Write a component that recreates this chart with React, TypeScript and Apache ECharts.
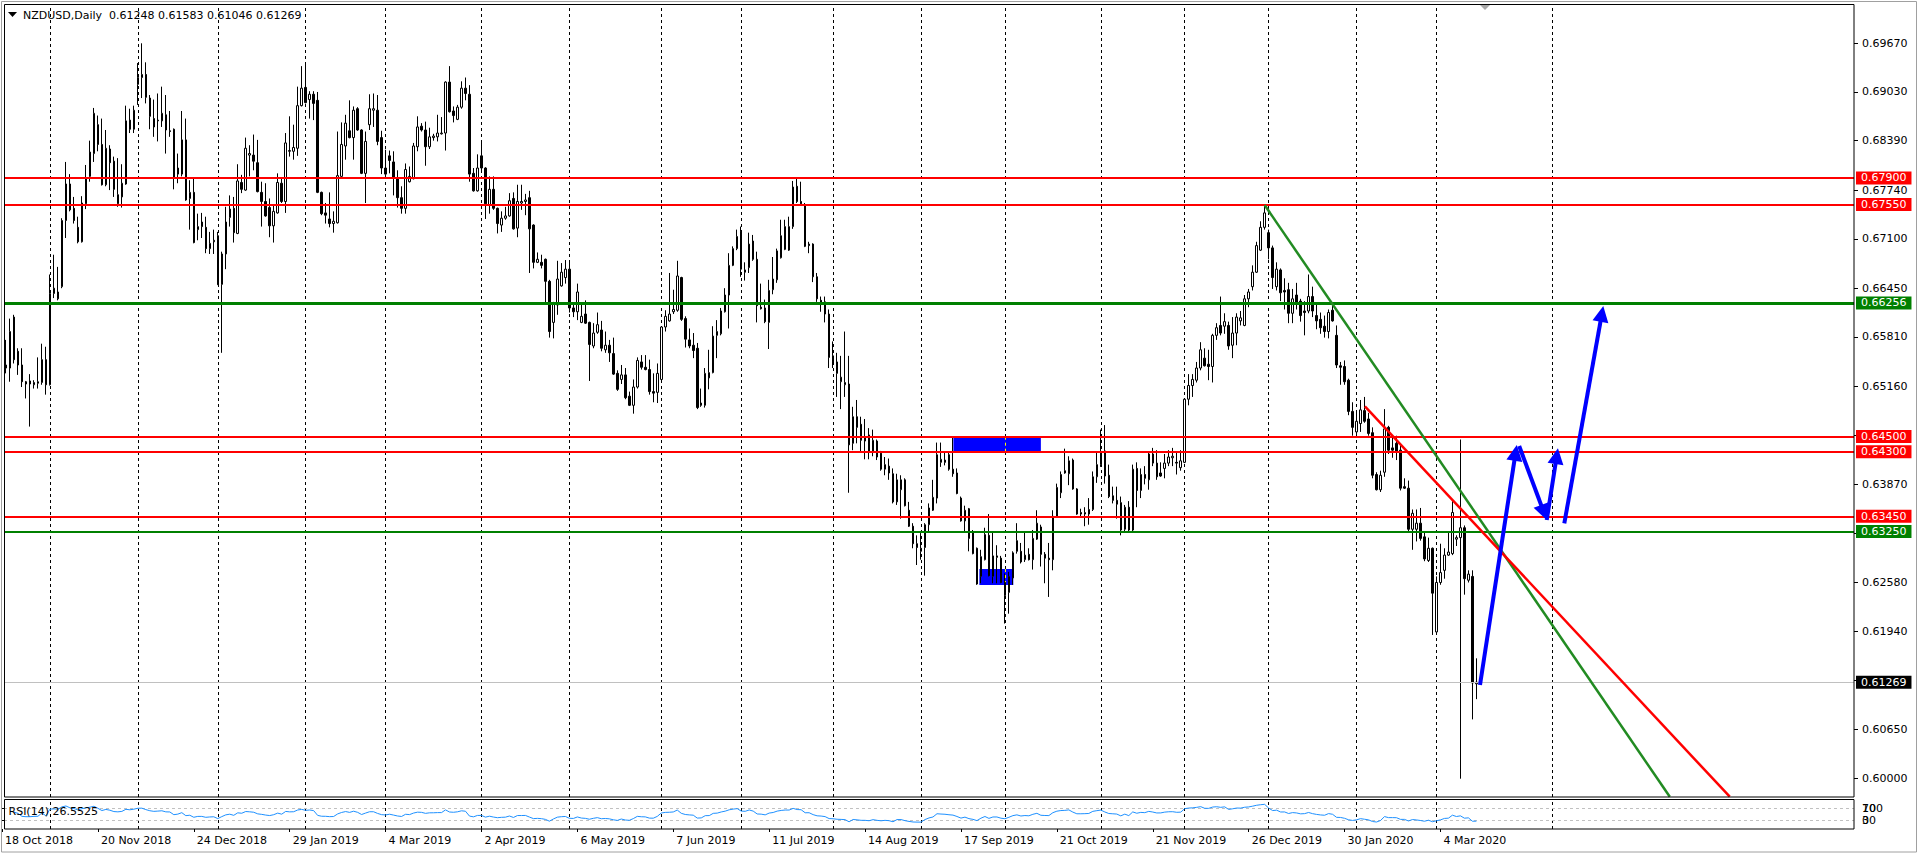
import React, { useEffect, useRef } from "react";
import * as echarts from "echarts";

const FONT = "DejaVu Sans";
const TITLE = "NZDUSD,Daily";
const RSI_TEXT = "RSI(14) 26.5525";
const SLOTS = 463; // bar slots 1..463 (incl. empty shift area on the right)
const LABEL_STEP = 24;
const DATE_LABELS = [
  "18 Oct 2018", "20 Nov 2018", "24 Dec 2018", "29 Jan 2019", "4 Mar 2019", "2 Apr 2019",
  "6 May 2019", "7 Jun 2019", "11 Jul 2019", "14 Aug 2019", "17 Sep 2019", "21 Oct 2019",
  "21 Nov 2019", "26 Dec 2019", "30 Jan 2020", "4 Mar 2020",
];
const PRICE_MIN = 0.597594;
const PRICE_MAX = 0.701868;
const PRICE_TICKS = [
  0.6967, 0.6903, 0.6839, 0.6774, 0.671, 0.6645, 0.6581, 0.6516, 0.6452, 0.6387,
  0.6323, 0.6258, 0.6194, 0.6129, 0.6065, 0.6,
];
const GRID_BARS = [12, 34, 54, 76, 96, 120, 142, 165, 185, 208, 230, 251, 275, 296, 317, 339, 359, 388];

// Daily bars in pips (price x 10000): [open, high, low, close]
const barsA = [
  [6544,6577,6533,6540],[6540,6605,6522,6588],[6607,6610,6546,6551],[6562,6566,6531,6544],[6544,6566,6515,6522],
  [6522,6523,6500,6519],[6523,6532,6463,6519],[6518,6524,6513,6521],[6520,6554,6513,6522],[6521,6572,6518,6551],
  [6551,6568,6505,6518],[6518,6663,6517,6638],[6638,6689,6632,6645],[6631,6673,6629,6640],[6647,6737,6645,6734],
  [6734,6811,6711,6782],[6782,6795,6746,6748],[6750,6765,6730,6734],[6725,6739,6704,6706],[6706,6766,6705,6757],
  [6756,6807,6749,6790],[6792,6839,6785,6824],[6822,6882,6811,6875],[6860,6872,6825,6834],[6834,6868,6780,6781],
  [6781,6853,6779,6829],[6828,6833,6774,6810],[6812,6818,6765,6775],[6756,6816,6752,6768],[6765,6808,6751,6783],
  [6782,6885,6781,6865],[6866,6881,6849,6854],[6854,6885,6849,6879],[6913,6941,6886,6922],[6922,6967,6895,6926],
  [6926,6942,6888,6896],[6895,6899,6854,6871],[6868,6893,6844,6857],[6866,6901,6838,6865],[6865,6910,6857,6875],
  [6873,6899,6822,6853],[6852,6878,6844,6851],[6854,6855,6775,6790],[6795,6822,6783,6803],[6795,6878,6792,6840],
  [6840,6868,6760,6761],
];
const barsB = [
  [6763,6787,6722,6771],[6771,6789,6704,6705],[6722,6743,6708,6726],[6732,6744,6711,6726],[6725,6739,6691,6697],
  [6697,6719,6690,6704],[6706,6722,6690,6708],[6714,6719,6649,6650],[6650,6693,6560,6690],[6690,6752,6670,6732],
  [6738,6767,6726,6749],[6750,6765,6705,6718],[6717,6808,6716,6786],[6784,6794,6770,6775],[6774,6843,6773,6829],
  [6820,6833,6792,6822],[6820,6847,6800,6812],[6810,6840,6771,6772],[6771,6785,6726,6759],[6759,6783,6739,6740],
  [6751,6763,6712,6727],[6727,6754,6705,6746],[6744,6796,6743,6784],[6783,6790,6757,6759],[6759,6849,6744,6836],
  [6825,6871,6818,6826],[6825,6860,6814,6830],[6829,6910,6819,6885],[6885,6937,6884,6908],[6909,6941,6888,6889],
  [6893,6904,6868,6900],[6900,6904,6866,6888],[6892,6903,6770,6771],[6771,6772,6741,6743],[6744,6757,6730,6741],
  [6736,6771,6725,6730],[6730,6746,6718,6733],[6731,6851,6730,6793],[6792,6863,6790,6834],[6832,6873,6814,6862],
  [6852,6892,6842,6843],[6843,6884,6814,6879],[6881,6883,6852,6853],[6853,6854,6795,6796],[6796,6851,6757,6838],
  [6860,6900,6853,6881],
];
const barsC = [
  [6879,6901,6857,6881],[6879,6899,6833,6838],[6843,6852,6795,6803],[6803,6827,6792,6795],[6819,6826,6796,6813],
  [6811,6825,6767,6790],[6790,6800,6751,6764],[6764,6779,6743,6750],[6750,6809,6743,6801],[6785,6805,6784,6792],
  [6789,6836,6788,6832],[6831,6871,6825,6857],[6858,6862,6851,6853],[6853,6864,6806,6831],[6831,6856,6828,6844],
  [6843,6848,6839,6845],[6844,6873,6838,6849],[6848,6870,6847,6849],[6849,6917,6826,6916],[6916,6937,6876,6877],
  [6878,6884,6863,6872],[6867,6886,6866,6883],[6883,6917,6881,6908],[6908,6922,6892,6901],[6900,6912,6785,6795],
  [6796,6803,6772,6773],[6773,6821,6772,6803],[6819,6837,6797,6803],[6803,6804,6736,6756],[6755,6792,6743,6775],
  [6775,6792,6748,6750],[6750,6751,6717,6730],[6728,6746,6719,6737],[6737,6752,6735,6740],[6740,6770,6739,6760],
  [6763,6771,6722,6723],[6724,6781,6712,6759],[6757,6781,6748,6759],[6759,6769,6741,6761],[6764,6773,6665,6723],
  [6728,6729,6671,6679],[6679,6692,6678,6683],[6679,6689,6671,6675],[6683,6684,6625,6654],[6654,6656,6580,6588],
  [6600,6627,6579,6624],
];
const barsD = [
  [6623,6681,6610,6657],[6648,6678,6647,6666],[6659,6682,6651,6670],[6670,6682,6613,6619],[6619,6625,6607,6614],
  [6614,6651,6603,6640],[6600,6625,6599,6608],[6611,6629,6598,6599],[6600,6601,6523,6571],[6569,6599,6566,6586],
  [6587,6613,6585,6597],[6590,6602,6562,6566],[6564,6588,6560,6570],[6570,6577,6548,6560],[6559,6580,6531,6532],
  [6533,6537,6510,6512],[6525,6544,6519,6531],[6531,6540,6499,6501],[6503,6509,6490,6491],[6491,6525,6480,6515],
  [6515,6554,6513,6550],[6548,6557,6538,6541],[6541,6557,6537,6538],[6538,6551,6505,6509],[6509,6533,6495,6507],
  [6508,6546,6494,6533],[6525,6595,6524,6594],[6594,6616,6588,6608],[6602,6665,6601,6611],[6614,6643,6611,6617],
  [6616,6681,6614,6661],[6659,6660,6602,6604],[6605,6608,6567,6578],[6577,6592,6566,6569],[6570,6586,6553,6563],
  [6566,6573,6486,6488],[6494,6513,6489,6491],[6491,6540,6488,6533],[6527,6564,6512,6534],[6534,6595,6533,6582],
  [6583,6603,6553,6588],[6585,6619,6583,6615],[6614,6645,6613,6636],[6636,6691,6592,6675],[6675,6700,6674,6697],
  [6697,6722,6695,6713],
];
const barsE = [
  [6720,6726,6660,6670],[6669,6679,6655,6666],[6672,6718,6665,6703],[6707,6715,6681,6683],[6683,6693,6600,6622],
  [6620,6651,6617,6618],[6619,6630,6599,6601],[6600,6656,6565,6642],[6643,6686,6637,6657],[6656,6697,6652,6694],
  [6685,6735,6684,6714],[6696,6735,6695,6726],[6695,6739,6694,6726],[6726,6786,6723,6778],[6779,6789,6757,6759],
  [6759,6785,6754,6756],[6754,6757,6699,6700],[6703,6706,6691,6701],[6703,6704,6653,6660],[6660,6665,6627,6631],
  [6629,6634,6614,6625],[6627,6634,6600,6611],[6611,6617,6540,6554],[6556,6575,6540,6548],[6548,6560,6502,6533],
  [6522,6556,6486,6528],[6518,6588,6502,6521],[6519,6556,6376,6439],[6441,6489,6432,6476],[6476,6498,6441,6462],
  [6466,6476,6430,6445],[6448,6473,6420,6444],[6452,6461,6420,6430],[6430,6459,6424,6445],[6444,6446,6419,6423],
  [6428,6431,6405,6407],[6407,6423,6399,6413],[6411,6421,6393,6402],[6401,6408,6362,6364],[6364,6401,6360,6393],
  [6380,6399,6342,6393],[6393,6395,6358,6359],[6353,6364,6331,6332],[6332,6336,6303,6309],[6309,6320,6281,6304],
  [6299,6323,6288,6303],
];
const barsF = [
  [6304,6336,6267,6334],[6334,6362,6324,6356],[6353,6393,6352,6370],[6369,6442,6362,6426],[6416,6442,6410,6420],
  [6419,6430,6412,6416],[6426,6430,6405,6407],[6407,6449,6397,6401],[6402,6408,6374,6375],[6369,6371,6338,6339],
  [6339,6359,6325,6353],[6355,6356,6299,6316],[6325,6327,6295,6296],[6303,6304,6255,6256],[6266,6301,6257,6292],
  [6288,6330,6287,6321],[6320,6348,6266,6267],[6266,6325,6257,6293],[6291,6307,6257,6293],[6290,6293,6257,6258],
  [6258,6270,6204,6241],[6245,6272,6217,6266],[6264,6299,6255,6297],[6299,6336,6296,6313],[6299,6310,6283,6285],
  [6288,6325,6285,6294],[6295,6303,6287,6288],[6288,6327,6275,6316],[6315,6353,6314,6336],[6331,6334,6279,6295],
  [6295,6298,6257,6290],[6290,6310,6239,6288],[6288,6353,6274,6345],[6345,6388,6344,6383],[6376,6404,6369,6400],
  [6402,6434,6401,6405],[6401,6424,6386,6418],[6419,6421,6380,6381],[6381,6382,6347,6348],[6350,6355,6345,6348],
  [6348,6357,6332,6350],[6348,6369,6334,6354],[6354,6404,6352,6397],[6397,6429,6389,6413],[6413,6459,6410,6427],
  [6431,6465,6388,6398],
];
const barsG = [
  [6399,6413,6369,6371],[6372,6384,6362,6366],[6366,6384,6342,6361],[6363,6371,6320,6327],[6328,6360,6325,6357],
  [6357,6365,6325,6327],[6327,6413,6325,6407],[6408,6416,6357,6379],[6379,6408,6369,6400],[6400,6411,6387,6395],
  [6393,6430,6380,6427],[6427,6435,6411,6415],[6415,6432,6393,6397],[6402,6416,6397,6398],[6408,6427,6395,6415],
  [6415,6432,6411,6423],[6422,6435,6411,6424],[6416,6430,6400,6415],[6409,6432,6405,6418],[6416,6500,6415,6499],
  [6499,6532,6491,6517],[6517,6532,6502,6525],[6524,6548,6521,6540],[6540,6574,6537,6564],[6553,6566,6542,6543],
  [6545,6564,6524,6542],[6542,6585,6521,6583],[6583,6599,6577,6593],[6596,6634,6583,6586],[6595,6612,6585,6601],
  [6596,6601,6564,6569],[6570,6607,6553,6586],[6586,6612,6570,6607],[6602,6615,6596,6606],[6596,6636,6595,6631],
  [6631,6644,6620,6640],[6647,6675,6642,6666],[6666,6706,6665,6701],[6695,6733,6694,6725],[6725,6754,6722,6744],
  [6718,6722,6683,6698],[6698,6701,6644,6659],[6647,6679,6642,6670],[6669,6671,6628,6639],[6642,6658,6617,6640],
  [6643,6652,6599,6612],
];
const barsH = [
  [6612,6644,6599,6631],[6636,6652,6617,6625],[6628,6631,6601,6609],[6615,6628,6583,6613],[6615,6663,6612,6634],
  [6634,6647,6607,6615],[6609,6625,6591,6602],[6604,6613,6585,6593],[6595,6609,6580,6588],[6588,6617,6579,6613],
  [6616,6625,6601,6602],[6583,6596,6540,6544],[6543,6548,6518,6541],[6542,6550,6518,6522],[6524,6526,6478,6483],
  [6483,6495,6451,6462],[6456,6483,6451,6470],[6467,6498,6456,6485],[6484,6502,6468,6470],[6473,6481,6451,6454],
  [6455,6462,6395,6399],[6400,6403,6379,6380],[6380,6405,6377,6399],[6403,6486,6397,6460],[6462,6464,6427,6432],
  [6435,6448,6422,6432],[6441,6451,6419,6430],[6432,6440,6379,6382],[6384,6395,6381,6382],[6382,6392,6325,6328],
  [6328,6354,6301,6349],[6328,6354,6312,6336],[6336,6356,6313,6316],[6318,6325,6286,6289],[6287,6317,6285,6303],
  [6303,6304,6189,6244],[6193,6266,6191,6258],[6258,6309,6255,6271],[6274,6303,6263,6294],[6294,6325,6293,6298],
  [6296,6365,6294,6350],[6315,6320,6306,6317],[6317,6446,6000,6330],[6330,6333,6242,6263],[6261,6274,6258,6269],
  [6266,6274,6078,6126],[6124.8,6158.3,6104.6,6126.9],
];

// Drawn objects (bar number, price)
const RESISTANCE = [0.679, 0.6755, 0.645, 0.643, 0.6345];
const SUPPORT = [0.66256, 0.6325];
const BID = 0.61269;
const GREEN_TREND = [[316, 0.67543], [417.4, 0.59763]];
const RED_TREND = [[341.1, 0.64897], [432.4, 0.59763]];
const ZONES = [
  [[238.1, 0.64497], [260, 0.64309]],
  [[244.6, 0.62757], [253.1, 0.62547]],
];
const ARROWS = [
  [[369.9, 0.61232], [378.8, 0.64284]],
  [[379.7, 0.64375], [385.9, 0.6350]],
  [[386.6, 0.63402], [389.1, 0.64241]],
  [[391.0, 0.63358], [400.4, 0.66112]],
];
const RSI_PERIOD = 14;
const RSI_LEVELS = [70, 30];

const RED = "#FF0000";
const GREEN = "#008000";
const SUPPORT_WIDTHS = [3, 2];

function computeRsi(closes: number[], period: number): number[] {
  const out: number[] = [NaN];
  let ag = 0;
  let al = 0;
  for (let i = 1; i < closes.length; i++) {
    const d = closes[i] - closes[i - 1];
    const g = d > 0 ? d : 0;
    const l = d < 0 ? -d : 0;
    const n = Math.min(i, period);
    ag = (ag * (n - 1) + g) / n;
    al = (al * (n - 1) + l) / n;
    out.push(al === 0 ? 100 : 100 - 100 / (1 + ag / al));
  }
  return out;
}

function tagLabel(p: number, bg: string) {
  return {
    show: true,
    position: "end",
    distance: 2,
    formatter: p.toFixed(5),
    color: "#fff",
    backgroundColor: bg,
    padding: [1, 5, 1, 5],
    fontSize: 11,
    fontFamily: FONT,
    lineHeight: 11,
  };
}

function buildOption() {
  const allBars = [...barsA, ...barsB, ...barsC, ...barsD, ...barsE, ...barsF, ...barsG, ...barsH];
  const cats = Array.from({ length: SLOTS }, (_, i) => String(i + 1));
  const candleData = allBars.map(([o, h, l, c]) => [o / 1e4, c / 1e4, l / 1e4, h / 1e4]);
  const closes = allBars.map((b) => b[3] / 1e4);
  const rsi = computeRsi(closes, RSI_PERIOD);
  const rsiData: number[][] = [];
  for (let k = 2; k < rsi.length; k++) rsiData.push([k + 1, rsi[k]]);
  const labelBars = DATE_LABELS.map((_, i) => i * LABEL_STEP);
  const last = allBars[allBars.length - 1];
  const header = `${TITLE}  ${last.map((v) => (v / 1e4).toFixed(5)).join(" ")}`;

  const yellowSegs: any[] = [];
  ZONES.forEach(([a, b]) => {
    GRID_BARS.forEach((g) => {
      if (g > a[0] && g < b[0]) yellowSegs.push([{ coord: [g, a[1]] }, { coord: [g, b[1]] }]);
    });
  });

  const dummy = { type: "line", xAxisIndex: 1, yAxisIndex: 0, data: [], silent: true, symbol: "none" };

  return {
    animation: false,
    textStyle: { fontFamily: FONT, fontSize: 11, color: "#000" },
    grid: [
      { left: 4, right: 65, top: 4, height: 793 },
      { left: 0, right: 65, top: 799, height: 30 },
    ],
    xAxis: [
      { type: "category", gridIndex: 0, data: cats, show: false },
      { type: "value", gridIndex: 0, min: 0.5, max: SLOTS + 0.5, show: false },
      {
        type: "value",
        gridIndex: 1,
        min: -0.5,
        max: SLOTS + 0.5,
        axisLine: { show: false },
        splitLine: { show: false },
        axisTick: { show: true, customValues: labelBars, length: 3, lineStyle: { color: "#000" } },
        axisLabel: {
          customValues: labelBars,
          formatter: (v: number) => DATE_LABELS[Math.round(v / LABEL_STEP)] || "",
          align: "left",
          margin: 6,
          padding: [0, 0, 0, 3],
          color: "#000",
          fontFamily: FONT,
          fontSize: 11,
        },
      },
    ],
    yAxis: [
      {
        type: "value",
        gridIndex: 0,
        position: "right",
        min: PRICE_MIN,
        max: PRICE_MAX,
        axisLine: { show: false },
        splitLine: { show: false },
        axisTick: { show: true, customValues: PRICE_TICKS, length: 4, lineStyle: { color: "#000" } },
        axisLabel: {
          customValues: PRICE_TICKS,
          formatter: (v: number) => v.toFixed(5),
          margin: 8,
          color: "#000",
          fontFamily: FONT,
          fontSize: 11,
        },
      },
      {
        type: "value",
        gridIndex: 1,
        position: "right",
        min: 0,
        max: 100,
        axisLine: { show: false },
        splitLine: { show: false },
        axisTick: { show: true, customValues: RSI_LEVELS, length: 4, lineStyle: { color: "#000" } },
        axisLabel: {
          customValues: RSI_LEVELS,
          formatter: (v: number) => (v === 70 ? "100" : "30"),
          margin: 8,
          color: "#000",
          fontFamily: FONT,
          fontSize: 11,
        },
      },
      {
        type: "value",
        gridIndex: 1,
        position: "right",
        min: 0,
        max: 100,
        axisLine: { show: false },
        splitLine: { show: false },
        axisTick: { show: false },
        axisLabel: {
          customValues: RSI_LEVELS,
          formatter: (v: number) => (v === 70 ? "70" : "0"),
          margin: 8,
          color: "#000",
          fontFamily: FONT,
          fontSize: 11,
        },
      },
    ],
    series: [
      {
        ...dummy,
        markLine: {
          silent: true,
          z: 1,
          precision: 6,
          symbol: "none",
          label: { show: false },
          lineStyle: { color: "#000", type: [3, 3], width: 1 },
          data: GRID_BARS.map((b) => ({ xAxis: b })),
        },
      },
      {
        ...dummy,
        markArea: {
          silent: true,
          z: 2,
          itemStyle: { color: "#0000FF" },
          data: ZONES.map(([a, b]) => [{ coord: a }, { coord: b }]),
        },
      },
      {
        ...dummy,
        markLine: {
          silent: true,
          z: 3,
          precision: 6,
          symbol: "none",
          label: { show: false },
          lineStyle: { color: "#FFFF00", type: [3, 3], width: 1 },
          data: yellowSegs,
        },
      },
      {
        type: "candlestick",
        xAxisIndex: 0,
        yAxisIndex: 0,
        data: candleData,
        barWidth: 2,
        z: 4,
        silent: true,
        itemStyle: {
          color: "#FFFFFF",
          color0: "#000000",
          borderColor: "#000000",
          borderColor0: "#000000",
          borderColorDoji: "#000000",
          borderWidth: 1,
        },
      },
      {
        ...dummy,
        markLine: {
          silent: true,
          z: 5,
          precision: 6,
          symbol: "none",
          data: [
            { yAxis: BID, lineStyle: { color: "#C0C0C0", width: 1, type: "solid" }, label: tagLabel(BID, "#000000") },
            ...RESISTANCE.map((p) => ({ yAxis: p, lineStyle: { color: RED, width: 2, type: "solid" }, label: tagLabel(p, RED) })),
            ...SUPPORT.map((p, i) => ({
              yAxis: p,
              lineStyle: { color: GREEN, width: SUPPORT_WIDTHS[i], type: "solid" },
              label: tagLabel(p, GREEN),
            })),
          ],
        },
      },
      {
        ...dummy,
        markLine: {
          silent: true,
          z: 6,
          precision: 6,
          symbol: "none",
          label: { show: false },
          data: [
            [{ coord: GREEN_TREND[0], lineStyle: { color: "#228B22", width: 2.5, type: "solid" } }, { coord: GREEN_TREND[1] }],
            [{ coord: RED_TREND[0], lineStyle: { color: RED, width: 2.5, type: "solid" } }, { coord: RED_TREND[1] }],
          ],
        },
      },
      {
        ...dummy,
        markLine: {
          silent: true,
          z: 7,
          precision: 6,
          symbol: ["none", "triangle"],
          symbolSize: 16,
          label: { show: false },
          lineStyle: { color: "#0000FF", width: 4, type: "solid" },
          itemStyle: { color: "#0000FF" },
          data: ARROWS.map(([a, b]) => [{ coord: a }, { coord: b }]),
        },
      },
      {
        type: "line",
        xAxisIndex: 2,
        yAxisIndex: 1,
        data: [],
        silent: true,
        symbol: "none",
        markLine: {
          silent: true,
          z: 1,
          precision: 6,
          symbol: "none",
          label: { show: false },
          lineStyle: { color: "#000", type: [3, 3], width: 1 },
          data: GRID_BARS.map((b) => ({ xAxis: b })),
        },
      },
      {
        type: "line",
        xAxisIndex: 2,
        yAxisIndex: 1,
        data: rsiData,
        silent: true,
        symbol: "none",
        showSymbol: false,
        z: 4,
        lineStyle: { color: "#1E90FF", width: 1 },
        markLine: {
          silent: true,
          z: 3,
          precision: 6,
          symbol: "none",
          label: { show: false },
          lineStyle: { color: "#C0C0C0", type: [3, 3], width: 1 },
          data: RSI_LEVELS.map((v) => [{ coord: [0.5, v] }, { coord: [SLOTS + 0.5, v] }]),
        },
      },
    ],
    graphic: [
      {
        type: "rect",
        z: 100,
        silent: true,
        shape: { x: 1.5, y: 1.5, width: 1915, height: 850.5 },
        style: { fill: "none", stroke: "#A0A0A0", lineWidth: 1 },
      },
      {
        type: "rect",
        z: 100,
        silent: true,
        shape: { x: 4.5, y: 4.5, width: 1849.5, height: 792.5 },
        style: { fill: "none", stroke: "#000", lineWidth: 1 },
      },
      {
        type: "rect",
        z: 100,
        silent: true,
        shape: { x: 4.5, y: 799.5, width: 1849.5, height: 29.5 },
        style: { fill: "none", stroke: "#000", lineWidth: 1 },
      },
      {
        type: "polygon",
        z: 100,
        silent: true,
        shape: { points: [[8, 12], [17, 12], [12.5, 17]] },
        style: { fill: "#000" },
      },
      {
        type: "polygon",
        z: 100,
        silent: true,
        shape: { points: [[1480, 5], [1490, 5], [1485, 10]] },
        style: { fill: "#A8A8A8" },
      },
      {
        type: "text",
        z: 100,
        silent: true,
        x: 23,
        y: 15,
        style: { text: header, fill: "#000", font: `11px "${FONT}"`, align: "left", verticalAlign: "middle" },
      },
      {
        type: "text",
        z: 100,
        silent: true,
        x: 8.5,
        y: 811,
        style: { text: RSI_TEXT, fill: "#000", font: `11px "${FONT}"`, align: "left", verticalAlign: "middle" },
      },
    ],
  };
}

export default function App() {
  const ref = useRef<HTMLDivElement>(null);
  useEffect(() => {
    if (!ref.current) return;
    const chart = echarts.init(ref.current, undefined, { renderer: "svg" });
    chart.setOption(buildOption() as any);
    return () => chart.dispose();
  }, []);
  return (
    <div
      ref={ref}
      style={{ position: "fixed", left: 0, top: 0, width: 1919, height: 855, background: "#fff" }}
    />
  );
}
